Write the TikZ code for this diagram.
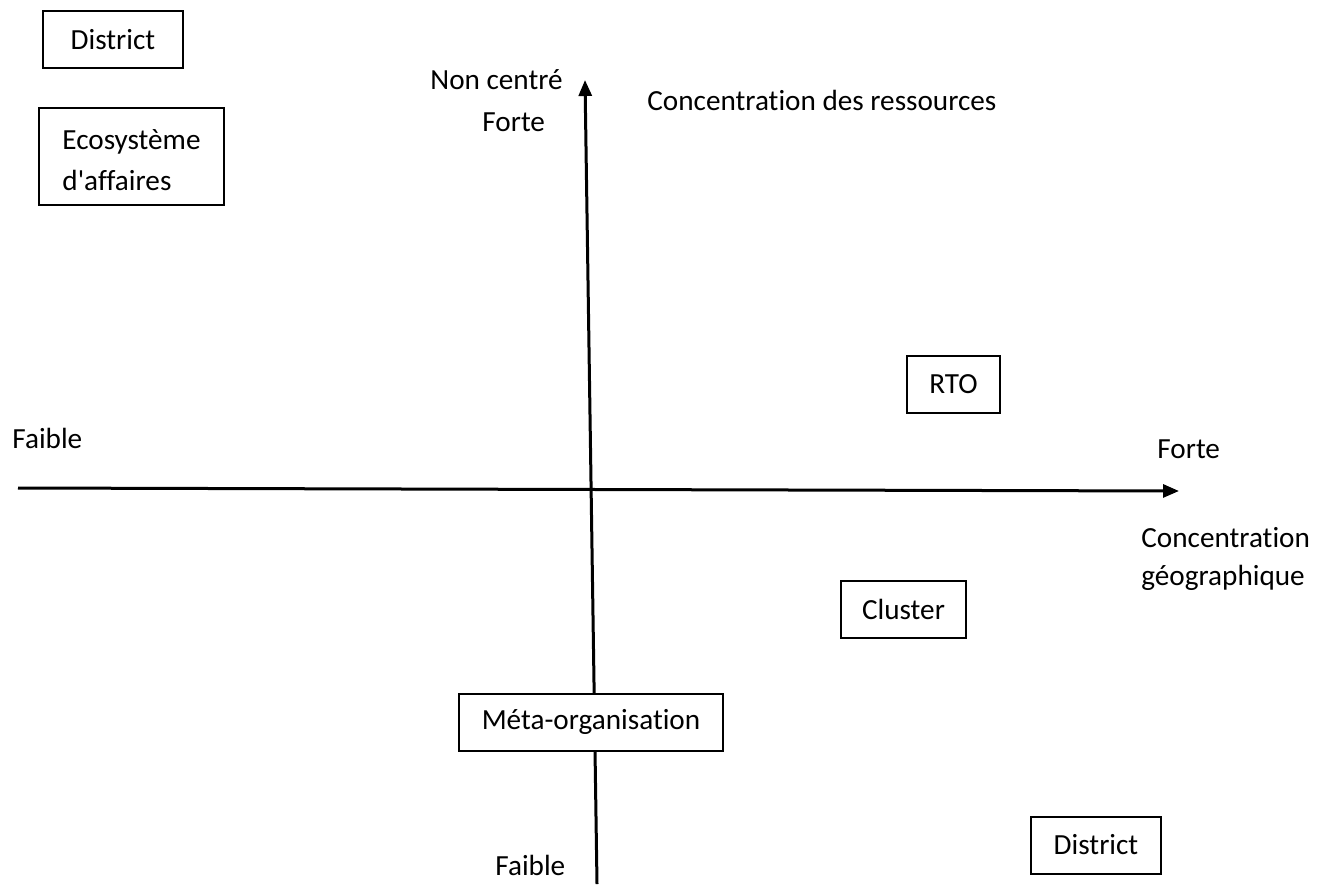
\documentclass[tikz,border=0pt]{standalone}
\usepackage{fontspec}
\setmainfont[Ligatures={NoCommon}]{Carlito}
\usetikzlibrary{arrows.meta}

\begin{document}
\begin{tikzpicture}[x=0.5pt,y=-0.5pt,
    font=\fontsize{14.6}{20.5}\selectfont,
    quadbox/.style={draw,line width=1pt,fill=white,inner sep=0,minimum height=28.5pt},
    axistext/.style={anchor=base west,inner sep=0},
    axis/.style={line width=1.5pt,-{Triangle[length=8pt,width=6.5pt]}}]
\useasboundingbox (0,0) rectangle (1332,884);

% Axes
\coordinate (xstart) at (18,488);
\coordinate (xend) at (1179,491);
\coordinate (ystart) at (597,884);
\coordinate (yend) at (585,80);
\draw[axis] (xstart) -- (xend);
\draw[axis] (ystart) -- (yend);

% Axis texts
\node[axistext] (ncentre) at (430,89) {Non centré};
\node[axistext] (forteY) at (482,131) {Forte};
\node[axistext] (ressources) at (647,110) {Concentration des ressources};
\node[axistext] (faibleX) at (12,448) {Faible};
\node[axistext] (forteX) at (1157,458) {Forte};
\node[axistext] (geoA) at (1141,547) {Concentration};
\node[axistext] (geoB) at (1141,585) {géographique};
\node[axistext] (faibleY) at (495,875) {Faible};

% Boxes
\node[quadbox,
    minimum width=70pt
] (districtA) at (113,39.5) {District};

\node[quadbox,
    align=left,
    minimum width=92.5pt,
    minimum height=48.5pt
] (ecosys) at (131.5,156.5) {\raisebox{-1.75pt}[\height][\depth]{Ecosystème}\\
    \raisebox{-1.75pt}[\height][\depth]{d\textquotesingle affaires}};

\node[quadbox,
    minimum width=46.5pt
] (rto) at (953.5,384) {RTO};

\node[quadbox,
    minimum width=62.5pt
] (cluster) at (903.5,609.5) {Cluster};

\node[quadbox,
    minimum width=132pt
] (meta) at (591,722) {Méta-organisation};

\node[quadbox,
    minimum width=65pt
] (districtB) at (1096,845) {District};

\end{tikzpicture}
\end{document}
